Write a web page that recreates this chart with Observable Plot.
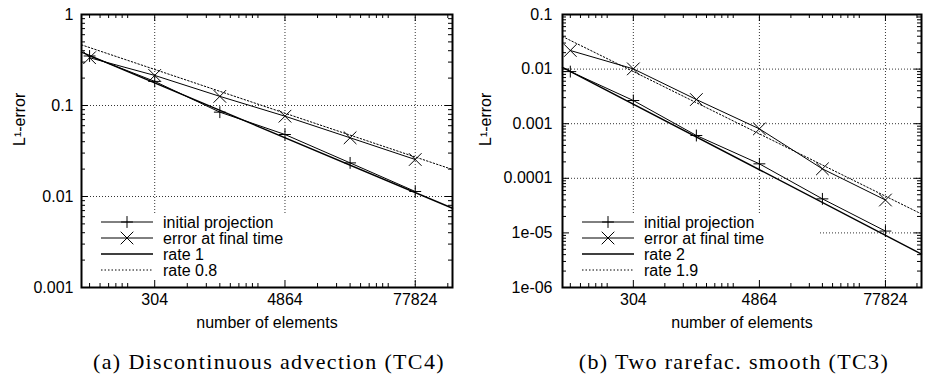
<!DOCTYPE html>
<html><head><meta charset="utf-8">
<script src="https://cdn.jsdelivr.net/npm/d3@7"></script>
<script src="https://cdn.jsdelivr.net/npm/@observablehq/plot@0.6"></script>
<style>
body{margin:0;background:#fff;width:928px;height:379px;overflow:hidden;position:relative;font-family:"Liberation Sans",Arial,sans-serif}
#row{display:flex;position:absolute;left:0;top:0}
.cap{position:absolute;top:350px;width:420px;text-align:center;font-family:"Liberation Serif",serif;font-size:22px;letter-spacing:1.35px;line-height:24px;color:#000;white-space:nowrap}
</style></head><body>
<div id="row"></div>
<div class="cap" style="left:59px">(a) Discontinuous advection (TC4)</div>
<div class="cap" style="left:524px">(b) Two rarefac. smooth (TC3)</div>
<script>
// ---- data ----
const elements = [76, 304, 1216, 4864, 19456, 77824];
const xDomain = [64, 172000];
const xMajor = [304, 4864, 77824];
const xTickLabels = ["304", "4864", "77824"];
const xMinorBase = [19, 304, 4864, 77824];
const minorK = [2, 3, 4, 5, 6, 7, 8, 9];

// panel (a)
const initA = [0.35, 0.184, 0.0845, 0.048, 0.0234, 0.01135];
const finalA = [0.335, 0.214, 0.126, 0.0763, 0.0442, 0.0255];
const rate1A = {n: [64, 172000], e: [0.385, 0.00743]};
const rate08A = {n: [64, 172000], e: [0.464, 0.0198]};
const yMajorA = [0.001, 0.01, 0.1, 1];
const yLabelsA = ["0.001", "0.01", "0.1", "1"];
const legendA = ["initial projection", "error at final time", "rate 1", "rate 0.8"];

// panel (b)
const initB = [0.009, 0.00266, 0.000608, 0.000184, 4.2e-5, 1.08e-5];
const finalB = [0.0219, 0.0101, 0.00277, 0.000805, 0.000149, 4.0e-5];
const rate2B = {n: [64, 172000], e: [0.0108, 4.1e-6]};
const rate19B = {n: [64, 172000], e: [0.0395, 2.22e-5]};
const yMajorB = [1e-6, 1e-5, 1e-4, 1e-3, 1e-2, 1e-1];
const yLabelsB = ["1e-06", "1e-05", "0.0001", "0.001", "0.01", "0.1"];
const legendB = ["initial projection", "error at final time", "rate 2", "rate 1.9"];

const PLUS_R = 3.9, TIMES_R = 5.8;

function toRows(xs, ys) { return xs.map((n, i) => ({n, e: ys[i]})); }

function panel({width, ml, mr, yDomain, yMajor, yLabels, init, fin, rA, rB, names, boxInsetRight, tickPad, labelDx}) {
  const mt = 14, H = 340, mb = 53;
  const innerH = H - mt - mb;
  const innerW = width - ml - mr;
  const xMinor = xMinorBase.flatMap(b => minorK.map(k => b * k)).filter(v => v > xDomain[0] && v < xDomain[1]);
  const yMinor = yMajor.flatMap(b => minorK.map(k => b * k)).filter(v => v > yDomain[0] && v < yDomain[1]);
  const yInner = yMajor.filter(v => v > yDomain[0] * 1.0001 && v < yDomain[1] * 0.9999);
  const MAJ = 7, MIN = 4;
  const grid = {stroke: "#000", strokeOpacity: 0.8, strokeWidth: 1, strokeDasharray: "1,2"};
  const tk = {stroke: "#000", strokeWidth: 1};
  const svg = Plot.plot({
    width, height: H, marginLeft: ml, marginRight: mr, marginTop: mt, marginBottom: mb,
    style: {fontFamily: "'Liberation Sans', Arial, sans-serif", fontSize: "16px", color: "#000", background: "#fff", overflow: "visible"},
    x: {type: "log", domain: xDomain, axis: null},
    y: {type: "log", domain: yDomain, axis: null},
    marks: [
      Plot.ruleX(xMajor, grid),
      Plot.ruleY(yInner, grid),
      Plot.frame({fill: "#fff", stroke: null, insetTop: 199, insetLeft: 1, insetBottom: 1, insetRight: boxInsetRight}),
      Plot.line(toRows(rB.n, rB.e), {x: "n", y: "e", stroke: "#000", strokeWidth: 1, strokeDasharray: "1.5,2"}),
      Plot.line(toRows(rA.n, rA.e), {x: "n", y: "e", stroke: "#000", strokeWidth: 1.4}),
      Plot.line(toRows(elements, init), {x: "n", y: "e", stroke: "#000", strokeWidth: 1}),
      Plot.line(toRows(elements, fin), {x: "n", y: "e", stroke: "#000", strokeWidth: 1}),
      Plot.dot(toRows(elements, init), {x: "n", y: "e", symbol: "plus", r: PLUS_R, stroke: "#000", strokeWidth: 1}),
      Plot.dot(toRows(elements, fin), {x: "n", y: "e", symbol: "times", r: TIMES_R, stroke: "#000", strokeWidth: 1}),
      // inward ticks on all four sides
      Plot.ruleX(xMajor, {...tk, insetTop: innerH - MAJ}),
      Plot.ruleX(xMajor, {...tk, insetBottom: innerH - MAJ}),
      Plot.ruleX(xMinor, {...tk, insetTop: innerH - MIN}),
      Plot.ruleX(xMinor, {...tk, insetBottom: innerH - MIN}),
      Plot.ruleY(yInner, {...tk, insetRight: innerW - MAJ}),
      Plot.ruleY(yInner, {...tk, insetLeft: innerW - MAJ}),
      Plot.ruleY(yMinor, {...tk, insetRight: innerW - MIN}),
      Plot.ruleY(yMinor, {...tk, insetLeft: innerW - MIN}),
      Plot.frame({stroke: "#000", strokeWidth: 2}),
      // tick labels
      Plot.text(xMajor, {x: d => d, frameAnchor: "bottom", dy: 17, text: (d, i) => xTickLabels[i], fontSize: 16, fill: "#000"}),
      Plot.text(yMajor, {y: d => d, frameAnchor: "left", dx: -tickPad, textAnchor: "end", text: (d, i) => yLabels[i], fontSize: 16, fill: "#000"}),
      // axis titles
      Plot.text(["number of elements"], {frameAnchor: "bottom", dy: 40, fontSize: 16, fill: "#000"}),
      Plot.text(["L¹-error"], {frameAnchor: "left", dx: -labelDx, dy: -5, rotate: -90, fontSize: 16, fill: "#000"})
    ]
  });
  // legend
  const g = d3.select(svg).append("g").attr("text-anchor", "start");
  const lx = ml + 20, tx = ml + 82, rows = [222, 238, 254, 270];
  const items = [
    {sym: d3.symbolPlus, r: PLUS_R, w: 1, dash: null},
    {sym: d3.symbolTimes, r: TIMES_R, w: 1, dash: null},
    {sym: null, w: 1.4, dash: null},
    {sym: null, w: 1, dash: "1.5,2"}
  ];
  items.forEach((it, i) => {
    g.append("line").attr("x1", lx).attr("x2", lx + 52).attr("y1", rows[i]).attr("y2", rows[i])
      .attr("stroke", "#000").attr("stroke-width", it.w).attr("stroke-dasharray", it.dash);
    if (it.sym) g.append("path").attr("transform", `translate(${lx + 26},${rows[i]})`)
      .attr("d", d3.symbol(it.sym, Math.PI * it.r * it.r)()).attr("fill", "none").attr("stroke", "#000");
    g.append("text").attr("x", tx).attr("y", rows[i]).attr("dy", "0.35em").attr("font-size", 16)
      .attr("text-anchor", "start").attr("fill", "#000").text(names[i]);
  });
  return svg;
}

const row = document.getElementById("row");
row.append(panel({width: 464, ml: 81, mr: 12, yDomain: [0.001, 1], yMajor: yMajorA, yLabels: yLabelsA,
  init: initA, fin: finalA, rA: rate1A, rB: rate08A, names: legendA, boxInsetRight: 113, tickPad: 8, labelDx: 62}));
row.append(panel({width: 464, ml: 98, mr: 7, yDomain: [1e-6, 0.1], yMajor: yMajorB, yLabels: yLabelsB,
  init: initB, fin: finalB, rA: rate2B, rB: rate19B, names: legendB, boxInsetRight: 102, tickPad: 10, labelDx: 77}));
</script>
</body></html>
